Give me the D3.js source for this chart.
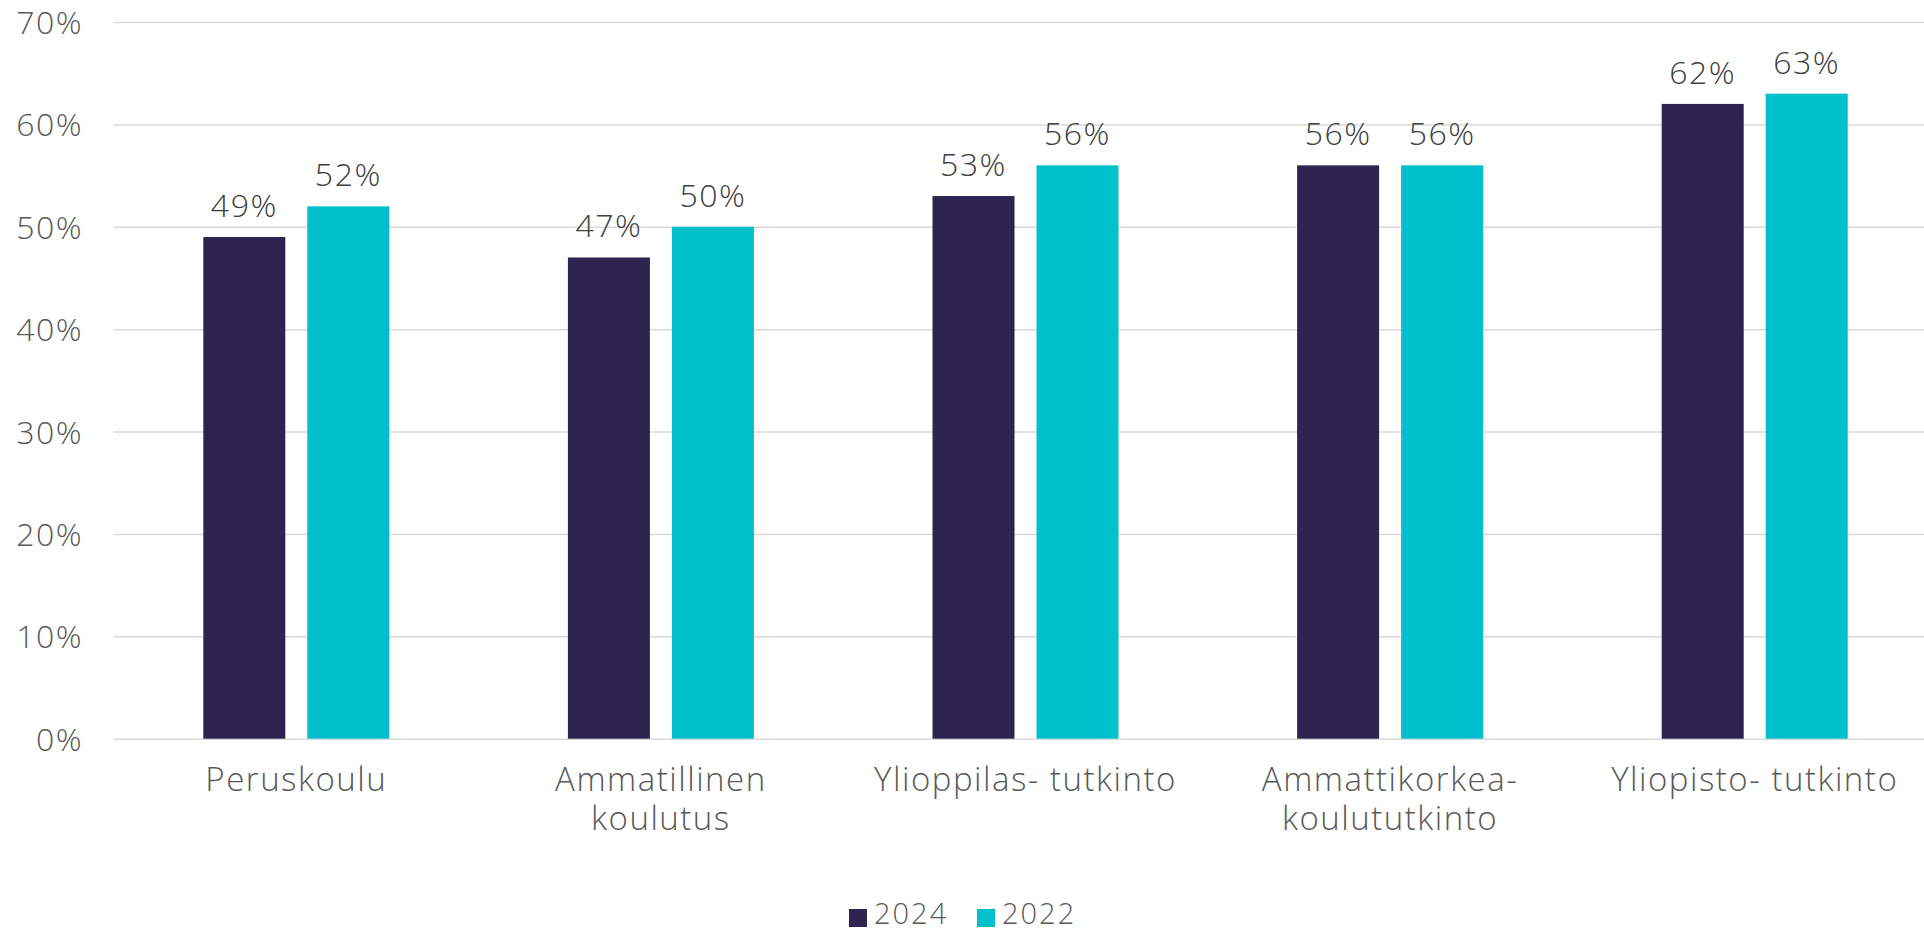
<!DOCTYPE html>
<html><head><meta charset="utf-8">
<script src="https://cdn.jsdelivr.net/npm/d3@7"></script>
<style>
html,body{margin:0;padding:0;background:#fff;overflow:hidden}
text{font-family:"Open Sans","Noto Sans",sans-serif;font-weight:300}
</style></head>
<body>
<svg id="chart" width="1924" height="933"></svg>
<script>
const categories = [["Peruskoulu"],["Ammatillinen","koulutus"],["Ylioppilas- tutkinto"],["Ammattikorkea-","koulututkinto"],["Yliopisto- tutkinto"]];
const seriesNames = ["2024","2022"];
const values2024 = [49,47,53,56,62];
const values2022 = [52,50,56,56,63];
const yTicks = [0,10,20,30,40,50,60,70];
const colors = ["#2D254F","#00C1CB"];

(function(){
const svg = d3.select("#chart");
const mLeft = 114, mRight = 1937, mTop = 22, mBottom = 738.7;
const catKeys = categories.map(c => c.join(" "));
const x0 = d3.scaleBand().domain(catKeys).range([mLeft,mRight]).padding(0);
const bw = x0.bandwidth();
const groupW = 186;
const x1 = d3.scaleBand().domain(seriesNames).range([(bw-groupW)/2,(bw+groupW)/2]).paddingInner(22/104).paddingOuter(0);
const y = d3.scaleLinear().domain([0,70]).range([mBottom,mTop]);

const yAxis = d3.axisLeft(y).tickValues(yTicks).tickFormat(d => d + "%").tickSize(-(mRight-mLeft)).tickPadding(31);
const ga = svg.append("g").attr("transform",`translate(${mLeft},0)`).call(yAxis);
ga.select(".domain").remove();
ga.selectAll(".tick line").attr("stroke","#D9D9D9").attr("stroke-width",1.5);
ga.selectAll(".tick text").attr("fill","#595959").style("font-size","32px").style("letter-spacing","1.5px").attr("dy","0.36em");

const data = [values2024, values2022];
const groups = svg.append("g").selectAll("g").data(catKeys).join("g")
  .attr("transform", d => `translate(${x0(d)},0)`);
groups.selectAll("rect").data((d,i) => seriesNames.map((s,j) => ({s, j, v:data[j][i]}))).join("rect")
  .attr("x", d => x1(d.s)).attr("width", x1.bandwidth())
  .attr("y", d => y(d.v)).attr("height", d => y(0)-y(d.v))
  .attr("fill", d => colors[d.j]);
groups.selectAll("text.val").data((d,i) => seriesNames.map((s,j) => ({s, v:data[j][i]}))).join("text")
  .attr("class","val")
  .attr("x", d => x1(d.s) + x1.bandwidth()/2).attr("y", d => y(d.v) - 20)
  .attr("text-anchor","middle").attr("fill","#404040").style("font-size","32px").style("letter-spacing","1.5px")
  .text(d => d.v + "%");

const xl = svg.append("g").selectAll("text").data(categories).join("text")
  .attr("x", (d,i) => x0(catKeys[i]) + bw/2).attr("y", 791)
  .attr("text-anchor","middle").attr("fill","#595959").style("font-size","33px").style("letter-spacing","1.5px");
xl.selectAll("tspan").data(d => d).join("tspan")
  .attr("x", function(){ return this.parentNode.getAttribute("x"); })
  .attr("dy", (d,i) => i ? 39 : 0).text(d => d);

const leg = svg.append("g");
const legX = [849, 977];
seriesNames.forEach((s,i) => {
  leg.append("rect").attr("x", legX[i]).attr("y", 909).attr("width", 18).attr("height", 18).attr("fill", colors[i]);
  leg.append("text").attr("x", legX[i] + 25).attr("y", 924).attr("fill","#595959").style("font-size","29px").style("letter-spacing","2px").text(s);
});
})();
</script>
</body></html>
